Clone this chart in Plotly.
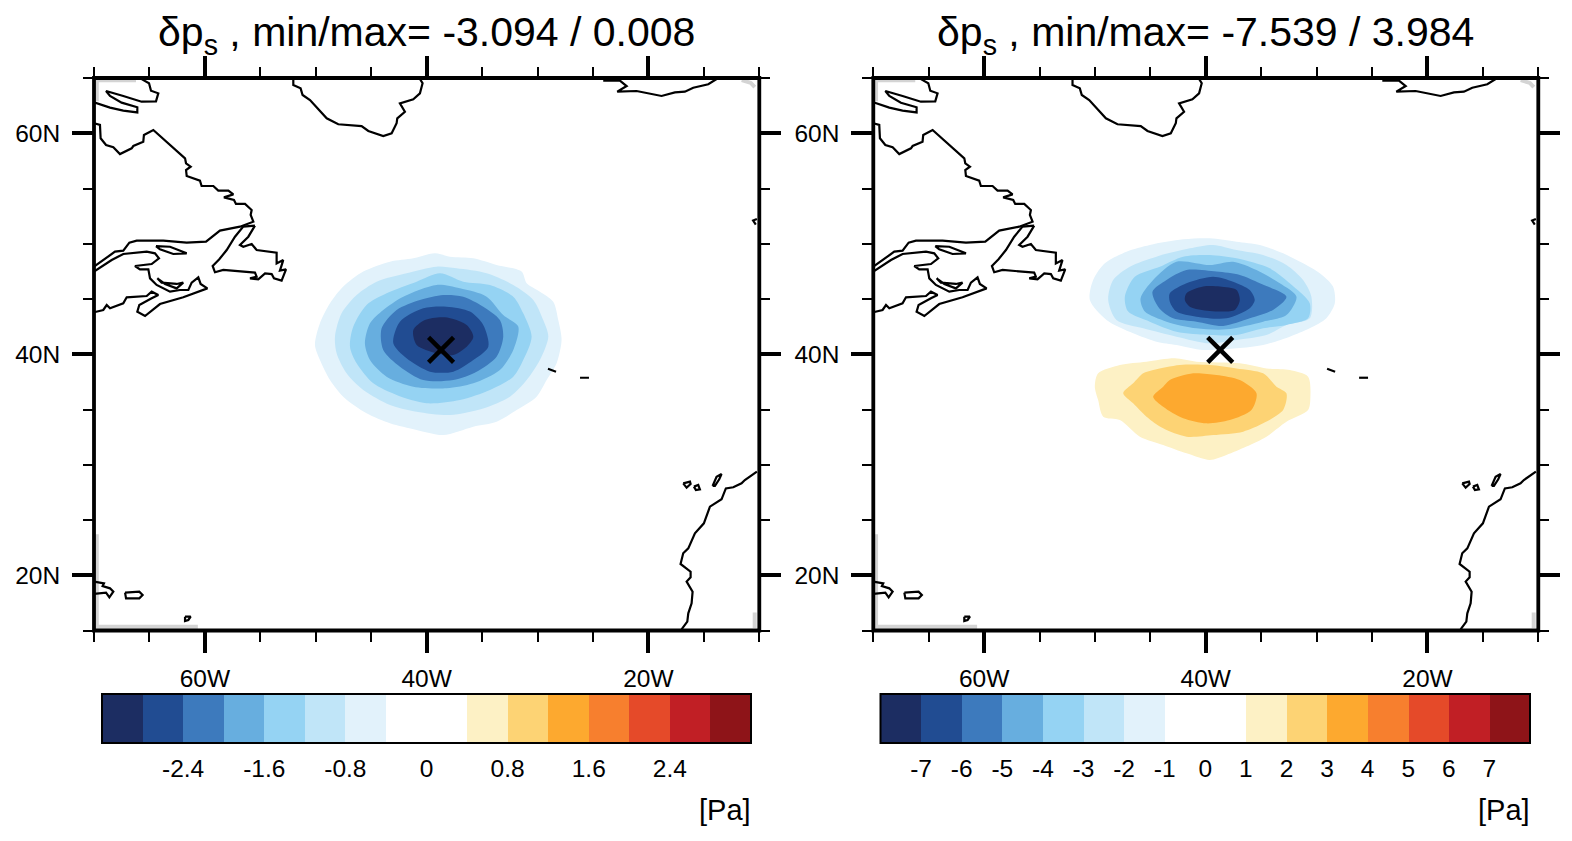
import plotly.graph_objects as go

W = 1572
H = 841

# --- data, lon/lat ---

titles = ["δp<sub>s</sub> , min/max= -3.094 / 0.008", "δp<sub>s</sub> , min/max= -7.539 / 3.984"]
unit = "[Pa]"
center = (-38.7, 40.4)

band_colors = ["#1C2D62", "#214C92", "#3D7ABD", "#67AEDF", "#95D3F3", "#C0E5F8", "#E2F2FB", "#FFFFFF",
               "#FFFFFF", "#FDF1C5", "#FDD374", "#FDA92F", "#F77F2E", "#E54A29", "#C11F25", "#8E1418"]
levels_left = [-3.2, -2.8, -2.4, -2.0, -1.6, -1.2, -0.8, -0.4, 0, 0.4, 0.8, 1.2, 1.6, 2.0, 2.4, 2.8, 3.2]
levels_right = [-8, -7, -6, -5, -4, -3, -2, -1, 0, 1, 2, 3, 4, 5, 6, 7, 8]
ticks_left = [-2.4, -1.6, -0.8, 0, 0.8, 1.6, 2.4]
ticklabels_left = ["-2.4", "-1.6", "-0.8", "0", "0.8", "1.6", "2.4"]
ticks_right = [-7, -6, -5, -4, -3, -2, -1, 0, 1, 2, 3, 4, 5, 6, 7]
ticklabels_right = ["-7", "-6", "-5", "-4", "-3", "-2", "-1", "0", "1", "2", "3", "4", "5", "6", "7"]

lon_major = [-60, -40, -20]
lon_labels = ["60W", "40W", "20W"]
lon_minor = [-70, -65, -55, -50, -45, -35, -30, -25, -15, -10]
lat_major = [20, 40, 60]
lat_labels = ["20N", "40N", "60N"]
lat_minor = [15, 25, 30, 35, 45, 50, 55, 65]

# left panel, outer contour to inner (each starts one colour band darker)
left_blue_1 = [(-39.14, 49.09), (-37.78, 48.79), (-35.67, 48.64), (-33.56, 48.03), (-31.30, 47.43), (-30.84, 46.37),
               (-29.64, 45.61), (-28.43, 44.70), (-27.98, 43.04), (-27.68, 41.23), (-28.13, 39.11), (-29.03, 37.59),
               (-29.94, 36.08), (-31.75, 34.87), (-33.56, 33.81), (-35.67, 33.36), (-38.39, 32.60), (-40.80, 33.06),
               (-43.21, 33.66), (-45.33, 34.57), (-47.44, 36.08), (-48.64, 37.59), (-49.55, 39.41), (-50.00, 40.77),
               (-49.55, 42.74), (-48.64, 44.55), (-47.44, 46.07), (-45.63, 47.43), (-43.21, 48.33), (-41.10, 48.64)]
left_blue_2 = [(-38.99, 47.88), (-37.18, 47.73), (-34.46, 47.28), (-32.05, 46.22), (-30.24, 44.86), (-29.34, 43.04),
               (-28.88, 41.53), (-29.64, 39.41), (-30.84, 37.59), (-32.35, 36.08), (-34.77, 35.02), (-37.78, 34.42),
               (-40.80, 34.72), (-43.21, 35.33), (-45.63, 36.69), (-47.14, 38.20), (-48.04, 40.02), (-48.19, 41.53),
               (-47.59, 43.65), (-46.23, 45.31), (-44.42, 46.52), (-41.71, 47.28)]
left_blue_3 = [(-38.69, 47.28), (-36.58, 46.52), (-34.16, 46.22), (-32.05, 45.16), (-31.15, 43.65), (-30.39, 41.53),
               (-31.15, 39.41), (-32.05, 37.90), (-34.16, 36.69), (-36.88, 35.78), (-39.90, 35.48), (-42.61, 36.23),
               (-44.72, 37.29), (-46.23, 39.11), (-46.83, 40.62), (-46.53, 42.44), (-45.33, 44.40), (-43.52, 45.46),
               (-40.80, 46.52)]
left_blue_4 = [(-38.99, 46.22), (-36.88, 45.91), (-34.46, 45.16), (-32.96, 43.49), (-31.60, 42.44), (-32.05, 40.32),
               (-33.26, 38.50), (-35.67, 37.29), (-38.09, 36.84), (-41.10, 36.99), (-43.52, 37.90), (-45.02, 39.41),
               (-45.48, 40.92), (-45.02, 42.74), (-43.82, 43.95), (-42.01, 45.16)]
left_blue_5 = [(-38.39, 45.31), (-36.58, 45.16), (-34.77, 44.25), (-33.26, 43.04), (-32.96, 41.53), (-33.56, 39.71),
               (-35.37, 38.35), (-37.48, 37.59), (-40.20, 37.59), (-42.31, 38.80), (-43.82, 40.32), (-43.97, 42.28),
               (-42.61, 43.95), (-40.50, 44.86)]
left_blue_6 = [(-38.09, 44.25), (-35.97, 43.80), (-34.77, 42.59), (-34.31, 40.62), (-35.67, 39.41), (-37.48, 38.35),
               (-39.59, 38.35), (-41.71, 39.56), (-42.91, 40.92), (-42.31, 42.89), (-40.20, 44.10)]
left_blue_7 = [(-38.24, 43.28), (-36.27, 42.59), (-35.67, 41.53), (-36.27, 40.62), (-37.48, 39.86), (-38.99, 40.02),
               (-40.80, 40.77), (-41.10, 42.13), (-40.05, 43.04)]

# right panel
right_blue_1 = [(-41.82, 50.36), (-39.41, 50.45), (-36.99, 50.15), (-34.88, 49.85), (-32.77, 49.09), (-30.96, 48.18),
                (-29.45, 47.28), (-28.25, 46.07), (-28.09, 44.55), (-28.85, 43.19), (-30.36, 42.28), (-32.17, 41.53),
                (-34.58, 40.77), (-36.99, 40.47), (-40.01, 40.32), (-42.43, 40.77), (-44.24, 41.07), (-46.35, 41.83),
                (-48.76, 43.04), (-50.27, 44.85), (-49.97, 46.67), (-48.91, 48.18), (-46.95, 49.24), (-44.84, 49.85)]
right_blue_2 = [(-41.22, 49.54), (-39.11, 49.85), (-36.99, 49.39), (-34.58, 48.94), (-32.47, 48.03), (-30.96, 46.67),
                (-30.21, 45.16), (-30.36, 43.19), (-32.47, 42.59), (-34.28, 41.68), (-36.99, 41.23), (-39.41, 40.92),
                (-42.43, 41.53), (-45.44, 42.28), (-47.86, 43.04), (-48.61, 44.85), (-48.16, 46.67), (-46.65, 47.88),
                (-44.24, 48.79)]
right_blue_3 = [(-47.10, 45.16), (-46.20, 46.97), (-43.93, 47.88), (-41.82, 48.79), (-39.41, 48.94), (-36.99, 48.64),
                (-33.98, 47.73), (-32.17, 46.37), (-30.36, 44.55), (-30.51, 43.19), (-32.47, 42.59), (-34.58, 42.28),
                (-36.99, 41.68), (-39.41, 41.68), (-42.43, 41.98), (-44.84, 42.89), (-46.80, 43.80)]
right_blue_4 = [(-45.68, 45.00), (-44.54, 46.67), (-42.43, 48.33), (-39.41, 48.03), (-37.30, 48.33), (-35.18, 47.58),
                (-33.07, 46.37), (-31.56, 45.16), (-32.47, 43.49), (-34.58, 42.89), (-37.90, 42.19), (-40.62, 42.28),
                (-43.33, 42.89), (-45.29, 43.80)]
right_blue_5 = [(-44.60, 45.61), (-43.33, 46.67), (-41.52, 47.58), (-38.81, 47.43), (-36.69, 47.12), (-34.88, 46.37),
                (-32.47, 45.16), (-33.68, 43.95), (-35.79, 43.19), (-38.20, 42.50), (-40.62, 42.89), (-42.73, 43.19),
                (-43.99, 44.10)]
right_blue_6 = [(-43.03, 45.46), (-41.52, 46.37), (-39.11, 46.97), (-37.30, 46.52), (-35.79, 45.76), (-35.34, 44.85),
                (-35.79, 44.10), (-37.90, 43.19), (-40.62, 43.34), (-42.43, 43.80), (-43.03, 44.70)]
right_blue_7 = [(-41.52, 45.46), (-40.01, 46.07), (-38.50, 46.07), (-36.99, 45.76), (-36.69, 44.85), (-37.15, 43.95),
                (-39.41, 43.86), (-41.22, 44.25), (-41.67, 44.85)]
right_orange_1 = [(-42.58, 39.56), (-40.62, 39.26), (-36.69, 39.11), (-34.28, 38.65), (-32.17, 38.50), (-30.51, 37.90),
                  (-30.30, 36.08), (-30.51, 34.87), (-32.47, 33.81), (-34.28, 32.45), (-36.09, 31.55), (-37.90, 30.79),
                  (-39.41, 30.34), (-41.52, 30.94), (-43.63, 31.70), (-45.74, 32.45), (-47.55, 33.96), (-49.06, 34.27),
                  (-49.52, 35.78), (-49.82, 36.99), (-49.52, 38.20), (-47.55, 38.96), (-45.14, 39.26)]
right_orange_2 = [(-44.54, 38.50), (-42.12, 38.96), (-39.41, 38.96), (-36.99, 38.65), (-34.58, 38.20), (-33.37, 36.99),
                  (-32.47, 36.39), (-32.77, 34.87), (-34.58, 33.66), (-36.39, 32.91), (-39.11, 32.60), (-41.52, 32.45),
                  (-43.63, 33.21), (-45.14, 34.27), (-46.35, 35.48), (-47.25, 36.39), (-46.35, 37.29), (-45.44, 38.20)]
right_orange_3 = [(-43.03, 37.59), (-40.92, 38.20), (-38.81, 38.05), (-36.69, 37.59), (-35.18, 36.39), (-35.64, 34.87),
                  (-37.60, 33.96), (-39.71, 33.66), (-41.82, 34.12), (-43.63, 35.17), (-44.54, 36.08), (-43.63, 36.99)]

# coastlines
baffin = [(-65.69, 64.9), (-65.38, 64.70), (-65.02, 64.52), (-64.84, 63.85), (-64.18, 63.61), (-64.39, 62.88),
          (-65.69, 62.85), (-67.35, 63.37), (-68.91, 63.82), (-68.55, 63.37), (-67.50, 62.76), (-66.08, 62.34),
          (-66.08, 61.88), (-67.35, 62.04), (-68.55, 62.31), (-70.0, 62.8)]
labrador = [(-70.0, 60.9), (-69.46, 60.74), (-69.40, 59.53), (-68.91, 58.92), (-68.25, 58.71), (-67.65, 58.10),
            (-66.59, 58.62), (-66.44, 58.83), (-65.54, 59.22), (-65.48, 59.83), (-64.63, 60.28), (-61.76, 57.71),
            (-61.67, 57.26), (-61.25, 56.95), (-61.67, 56.65), (-61.61, 56.11), (-60.41, 55.68), (-60.26, 55.20),
            (-59.20, 55.20), (-58.75, 54.78), (-57.84, 54.78), (-57.39, 54.44), (-58.24, 54.17), (-57.33, 53.93),
            (-57.15, 53.57), (-56.33, 53.57), (-55.73, 53.02), (-55.82, 52.57), (-55.58, 51.96), (-56.79, 51.51),
            (-58.60, 51.15), (-59.86, 50.15), (-61.61, 50.06), (-63.73, 50.24), (-66.14, 50.24), (-66.80, 50.06),
            (-67.35, 49.33), (-68.10, 49.24), (-70.0, 47.88)]
maritimes = [(-70.0, 47.43), (-68.40, 48.48), (-67.35, 49.03), (-65.23, 49.24), (-64.48, 49.09), (-64.12, 48.64),
             (-64.78, 48.12), (-66.29, 47.94), (-65.84, 47.64), (-65.08, 47.64), (-64.93, 46.82), (-64.33, 46.22),
             (-63.12, 45.61), (-62.22, 45.76), (-61.46, 45.76), (-61.16, 46.43), (-60.56, 46.91), (-60.35, 46.31),
             (-59.74, 45.91), (-61.92, 45.10), (-64.03, 44.49), (-65.38, 43.40), (-66.08, 43.80), (-65.90, 44.40),
             (-64.78, 45.01), (-64.18, 45.31), (-64.78, 45.61), (-65.23, 45.22), (-67.04, 45.10), (-67.35, 44.55),
             (-68.55, 44.10), (-68.85, 44.40), (-69.16, 43.95), (-70.0, 43.74)]
pei = [(-64.27, 46.82), (-63.88, 46.43), (-62.52, 46.31), (-61.92, 46.43), (-62.52, 45.91), (-63.57, 46.31),
       (-64.27, 46.82)]
anticosti = [(-64.39, 49.75), (-63.12, 49.69), (-61.61, 49.09), (-62.82, 49.03), (-64.03, 49.45), (-64.39, 49.75)]
newfoundland = [(-55.43, 51.60), (-56.49, 51.51), (-57.24, 50.60), (-57.99, 49.39), (-58.66, 48.55), (-59.26, 47.94),
                (-59.05, 47.37), (-58.30, 47.58), (-55.43, 47.34), (-55.28, 46.97), (-55.88, 46.82), (-55.13, 46.73),
                (-54.52, 47.27), (-53.92, 47.21), (-53.71, 46.82), (-53.02, 46.61), (-52.62, 47.64), (-53.17, 47.52),
                (-52.87, 48.48), (-53.47, 48.18), (-53.47, 49.15), (-55.28, 49.39), (-55.73, 49.94), (-56.49, 49.69),
                (-56.79, 49.85), (-56.03, 50.60), (-55.43, 51.60)]
greenland = [(-51.96, 65.0), (-51.96, 64.36), (-51.30, 64.06), (-51.12, 63.46), (-50.45, 63.00), (-48.94, 61.34),
             (-47.89, 60.80), (-45.78, 60.64), (-45.17, 60.19), (-43.82, 59.74), (-43.06, 59.98), (-42.61, 60.89),
             (-42.55, 61.34), (-41.86, 61.94), (-42.31, 62.70), (-41.10, 63.06), (-40.50, 63.61), (-40.26, 64.52),
             (-40.56, 65.0)]
iceland = [(-23.91, 64.76), (-22.40, 64.76), (-21.79, 64.27), (-22.64, 63.76), (-20.89, 63.82), (-18.63, 63.37),
           (-17.42, 63.70), (-16.52, 63.76), (-15.76, 64.12), (-14.40, 64.43), (-13.50, 65.0)]
ireland = [(-10.0, 52.2), (-10.34, 52.06), (-10.1, 51.7)]
africa = [(-10.0, 29.28), (-11.09, 28.52), (-11.39, 28.22), (-12.14, 27.86), (-12.81, 27.76), (-13.20, 26.77),
          (-14.25, 26.10), (-14.80, 24.59), (-15.61, 23.68), (-16.21, 22.32), (-16.67, 21.87), (-16.91, 20.90),
          (-16.00, 20.20), (-16.00, 19.69), (-16.36, 19.30), (-15.82, 18.39), (-15.91, 17.33), (-16.21, 16.42),
          (-16.30, 15.67), (-16.82, 14.97)]
canary_1 = [(-16.67, 28.22), (-16.06, 28.37), (-16.00, 28.16), (-16.36, 27.83), (-16.67, 28.22)]
canary_2 = [(-15.70, 27.92), (-15.31, 28.07), (-15.16, 27.67), (-15.52, 27.61), (-15.70, 27.92)]
canary_3 = [(-14.01, 27.98), (-13.65, 28.82), (-13.20, 29.07), (-13.41, 28.58), (-13.80, 27.98), (-14.01, 27.98)]
azores_1 = [(-28.91, 38.62), (-28.18, 38.35)]
azores_2 = [(-26.01, 37.80), (-25.20, 37.80)]
hispaniola = [(-70.0, 19.30), (-69.10, 19.14), (-69.22, 18.90), (-68.55, 18.69), (-68.25, 18.39), (-68.61, 17.87),
              (-68.91, 18.30), (-70.0, 18.18)]
puerto_rico = [(-67.19, 18.30), (-65.90, 18.39), (-65.60, 18.09), (-65.90, 17.78), (-67.10, 17.78), (-67.19, 18.30)]
small_island = [(-61.76, 16.12), (-61.25, 16.12), (-61.46, 15.82), (-61.76, 15.73), (-61.76, 16.12)]
coasts = [baffin, labrador, maritimes, pei, anticosti, newfoundland, greenland, iceland, ireland, africa, canary_1,
          canary_2, canary_3, azores_1, azores_2, hispaniola, puerto_rico, small_island]

# faint grey strips along the map edge
grey_top_left = [(-69.75, 62.9), (-69.75, 64.8), (-66.2, 64.8)]
grey_bottom_left = [(-69.75, 23.6), (-69.75, 15.2), (-60.6, 15.2)]
grey_top_right = [(-11.37, 64.82), (-10.55, 64.55), (-10.19, 64.18)]
grey_bottom_right = [(-10.2, 16.5), (-10.2, 15.1)]
grey_edges = [grey_top_left, grey_bottom_left, grey_top_right, grey_bottom_right]

left_fields = [(left_blue_1, band_colors[6]), (left_blue_2, band_colors[5]), (left_blue_3, band_colors[4]),
               (left_blue_4, band_colors[3]), (left_blue_5, band_colors[2]), (left_blue_6, band_colors[1]),
               (left_blue_7, band_colors[0])]
right_fields = [(right_blue_1, band_colors[6]), (right_blue_2, band_colors[5]), (right_blue_3, band_colors[4]),
                (right_blue_4, band_colors[3]), (right_blue_5, band_colors[2]), (right_blue_6, band_colors[1]),
                (right_blue_7, band_colors[0]), (right_orange_1, band_colors[9]), (right_orange_2, band_colors[10]),
                (right_orange_3, band_colors[11])]

# the outlines above were read with a slightly smaller degree size than the frame turned out to have
LON_FIX = 11.05 / 11.09
LAT_FIX = 11.02 / 11.05

# --- figure ---

FONT = "Liberation Sans"

fig = go.Figure()


def add_line(points, xa, ya, lon_shift=0, **kw):
    lons = [-70 + (p[0] + 70) * LON_FIX + lon_shift for p in points]
    lats = [65 - (65 - p[1]) * LAT_FIX for p in points]
    fig.add_trace(go.Scatter(x=lons, y=lats, xaxis=xa, yaxis=ya, mode="lines", hoverinfo="skip",
                             showlegend=False, **kw))


def draw_map(fields, xa, ya, lon_shift):
    for pts, col in fields:
        add_line(pts + pts[:1], xa, ya, lon_shift, fill="toself", fillcolor=col,
                 line=dict(width=0, color=col, shape="spline", smoothing=0.8))
    for pts in grey_edges:
        add_line(pts, xa, ya, line=dict(width=4, color="#d4d4d4"))
    for pts in coasts:
        add_line(pts, xa, ya, line=dict(width=2.2, color="black"))
    fig.add_trace(go.Scatter(x=[center[0]], y=[center[1]], xaxis=xa, yaxis=ya, mode="markers", hoverinfo="skip",
                             showlegend=False,
                             marker=dict(symbol="x-thin", size=25, color="black", line=dict(width=4.5, color="black"))))


def draw_bar(levels, xa, ya):
    mids = [(levels[i] + levels[i + 1]) / 2 for i in range(len(levels) - 1)]
    n = len(band_colors)
    scale = []
    for i, c in enumerate(band_colors):
        scale.append([i / n, c])
        scale.append([(i + 1) / n, c])
    fig.add_trace(go.Heatmap(x=levels, y=[0, 1], z=[mids], xaxis=xa, yaxis=ya, colorscale=scale, zmin=levels[0],
                             zmax=levels[-1], showscale=False, hoverinfo="skip"))


draw_map(left_fields, "x", "y", 0)
draw_map(right_fields, "x2", "y2", -0.12)
draw_bar(levels_left, "x3", "y3")
draw_bar(levels_right, "x4", "y4")

lon_axis = dict(range=[-70, -10], tickmode="array", tickvals=lon_major, ticktext=lon_labels, ticks="outside",
                ticklen=21, tickwidth=4, tickcolor="black", ticklabelstandoff=5,
                tickfont=dict(family=FONT, size=24.5, color="black"), showgrid=False, zeroline=False, showline=False,
                mirror="allticks",
                minor=dict(tickmode="array", tickvals=lon_minor, ticks="outside", ticklen=10, tickwidth=2,
                           tickcolor="black", showgrid=False))
lat_axis = dict(range=[15, 65], tickmode="array", tickvals=lat_major, ticktext=lat_labels, ticks="outside",
                ticklen=21, tickwidth=4, tickcolor="black", ticklabelstandoff=7,
                tickfont=dict(family=FONT, size=24.5, color="black"), showgrid=False, zeroline=False, showline=False,
                mirror="allticks",
                minor=dict(tickmode="array", tickvals=lat_minor, ticks="outside", ticklen=10, tickwidth=2,
                           tickcolor="black", showgrid=False))


def bar_x(levels, vals, labels, x0, x1):
    return dict(domain=[x0 / W, x1 / W], range=[levels[0], levels[-1]], tickmode="array", tickvals=vals,
                ticktext=labels, ticks="", ticklabelstandoff=8, tickfont=dict(family=FONT, size=24.5, color="black"),
                showgrid=False, zeroline=False, showline=False)


def bar_y(anchor):
    return dict(domain=[1 - 743 / H, 1 - 694 / H], range=[0, 1], showticklabels=False, ticks="", showgrid=False,
                zeroline=False, showline=False, anchor=anchor)


def frame(xa, ya, width):
    return dict(type="rect", xref=xa + " domain", yref=ya + " domain", x0=0, x1=1, y0=0, y1=1, layer="above",
                line=dict(color="black", width=width), fillcolor="rgba(0,0,0,0)")


map_y = [1 - 630.5 / H, 1 - 78 / H]

annotations = []
for cx, txt in zip([426, 1205], titles):
    annotations.append(dict(x=cx / W, y=1 - 35 / H, xref="paper", yref="paper", text=txt, showarrow=False,
                            xanchor="center", yanchor="middle", font=dict(family=FONT, size=41, color="black")))
for rx in [751, 1530]:
    annotations.append(dict(x=rx / W, y=1 - 810 / H, xref="paper", yref="paper", text=unit, showarrow=False,
                            xanchor="right", yanchor="middle", xshift=2, font=dict(family=FONT, size=29, color="black")))

fig.update_layout(
    width=W, height=H, autosize=False,
    margin=dict(l=0, r=0, t=0, b=0),
    paper_bgcolor="white", plot_bgcolor="white",
    showlegend=False,
    xaxis=dict(lon_axis, domain=[94 / W, 759.3 / W], anchor="y"),
    yaxis=dict(lat_axis, domain=map_y, anchor="x"),
    xaxis2=dict(lon_axis, domain=[873.3 / W, 1538.3 / W], anchor="y2"),
    yaxis2=dict(lat_axis, domain=map_y, anchor="x2"),
    xaxis3=dict(bar_x(levels_left, ticks_left, ticklabels_left, 102, 751), anchor="y3"),
    yaxis3=bar_y("x3"),
    xaxis4=dict(bar_x(levels_right, ticks_right, ticklabels_right, 880.5, 1530), anchor="y4"),
    yaxis4=bar_y("x4"),
    annotations=annotations,
    shapes=[frame("x", "y", 3.8), frame("x2", "y2", 3.8), frame("x3", "y3", 2), frame("x4", "y4", 2)],
)

fig.write_html("out.html", config={"displayModeBar": False}, post_script="document.body.style.margin='0';")
